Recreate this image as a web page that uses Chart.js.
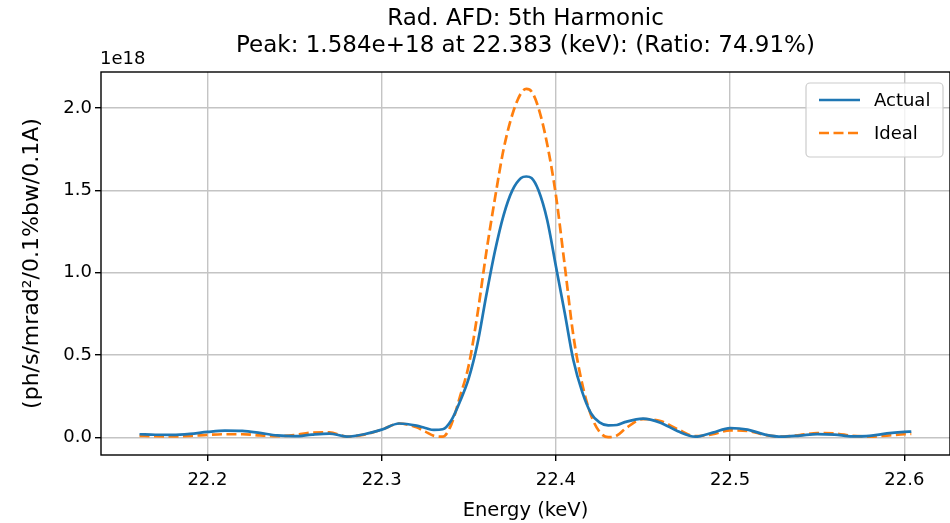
<!DOCTYPE html>
<html>
<head>
<meta charset="utf-8">
<script src="https://cdn.jsdelivr.net/npm/chart.js@4"></script>
<style>
  html, body { margin: 0; padding: 0; background: #fff; }
  #wrap { width: 950px; height: 523px; position: relative; }
</style>
</head>
<body>
<div id="wrap"><canvas id="chart"></canvas></div>
<script>
// energies (keV) and flux values in units of 1e18 ph/s/mrad^2/0.1%bw/0.1A
const energies = [22.161, 22.17, 22.18, 22.19, 22.20, 22.21, 22.22, 22.23, 22.24, 22.25,
  22.26, 22.27, 22.28, 22.29, 22.30, 22.31, 22.32, 22.325, 22.33, 22.335,
  22.34, 22.345, 22.35, 22.355, 22.36, 22.365, 22.37, 22.375, 22.38, 22.383,
  22.386, 22.39, 22.395, 22.40, 22.405, 22.41, 22.415, 22.42, 22.425, 22.43,
  22.435, 22.44, 22.45, 22.46, 22.47, 22.48, 22.49, 22.50, 22.51, 22.52,
  22.53, 22.54, 22.55, 22.56, 22.57, 22.58, 22.59, 22.60, 22.604];

const actualFlux = [0.020, 0.017, 0.016, 0.022, 0.034, 0.042, 0.040, 0.028, 0.013, 0.008,
  0.018, 0.024, 0.006, 0.020, 0.048, 0.085, 0.072, 0.058, 0.046, 0.050,
  0.105, 0.22, 0.36, 0.57, 0.86, 1.13, 1.35, 1.50, 1.575, 1.584,
  1.575, 1.50, 1.32, 1.04, 0.76, 0.47, 0.28, 0.15, 0.092, 0.074,
  0.076, 0.095, 0.115, 0.090, 0.038, 0.005, 0.030, 0.057, 0.048, 0.018,
  0.005, 0.012, 0.021, 0.018, 0.007, 0.010, 0.025, 0.034, 0.036];

const idealFlux = [0.010, 0.008, 0.007, 0.010, 0.016, 0.020, 0.020, 0.013, 0.008, 0.015,
  0.030, 0.032, 0.006, 0.018, 0.048, 0.085, 0.062, 0.036, 0.010, 0.005,
  0.080, 0.25, 0.44, 0.75, 1.12, 1.45, 1.75, 1.96, 2.09, 2.115,
  2.10, 2.00, 1.78, 1.47, 1.05, 0.62, 0.33, 0.14, 0.035, 0.002,
  0.012, 0.055, 0.112, 0.100, 0.050, 0.008, 0.020, 0.043, 0.040, 0.016,
  0.005, 0.015, 0.027, 0.025, 0.010, 0.006, 0.012, 0.020, 0.022];

const xTicks = [22.2, 22.3, 22.4, 22.5, 22.6];
const yTicks = [0.0, 0.5, 1.0, 1.5, 2.0];

const titleLines = ['Rad. AFD: 5th Harmonic', 'Peak: 1.584e+18 at 22.383 (keV): (Ratio: 74.91%)'];
const seriesNames = ['Actual', 'Ideal'];

const FONT = 'DejaVu Sans';
const BLUE = '#1f77b4';
const ORANGE = '#ff7f0e';

// frame, offset text and legend drawn like matplotlib
const extras = {
  id: 'extras',
  afterDraw(chart) {
    const { ctx, chartArea: a } = chart;
    ctx.save();
    ctx.strokeStyle = '#000';
    ctx.lineWidth = 1.4;
    ctx.strokeRect(a.left, a.top, a.right - a.left, a.bottom - a.top);

    ctx.fillStyle = '#000';
    ctx.font = '18px "' + FONT + '"';
    ctx.textAlign = 'left';
    ctx.textBaseline = 'bottom';
    ctx.fillText('1e18', a.left - 1, a.top - 4);

    // legend
    const lx = 806, ly = 83, lw = 137, lh = 74;
    ctx.beginPath();
    ctx.roundRect(lx, ly, lw, lh, 4);
    ctx.fillStyle = 'rgba(255,255,255,0.8)';
    ctx.fill();
    ctx.strokeStyle = '#cccccc';
    ctx.lineWidth = 1.2;
    ctx.stroke();

    const rows = [[seriesNames[0], BLUE, []], [seriesNames[1], ORANGE, [10, 4.5]]];
    rows.forEach((r, i) => {
      const y = 100 + i * 33;
      ctx.beginPath();
      ctx.setLineDash(r[2]);
      ctx.strokeStyle = r[1];
      ctx.lineWidth = 2.7;
      ctx.moveTo(819, y);
      ctx.lineTo(860, y);
      ctx.stroke();
      ctx.setLineDash([]);
      ctx.fillStyle = '#000';
      ctx.textBaseline = 'middle';
      ctx.fillText(r[0], 874, y + 1);
    });
    ctx.restore();
  }
};

new Chart(document.getElementById('chart'), {
  type: 'line',
  data: {
    datasets: [
      {
        label: seriesNames[0],
        data: energies.map((e, i) => ({ x: e, y: actualFlux[i] })),
        borderColor: BLUE,
        borderWidth: 2.7,
        pointRadius: 0,
        cubicInterpolationMode: 'monotone',
        fill: false
      },
      {
        label: seriesNames[1],
        data: energies.map((e, i) => ({ x: e, y: idealFlux[i] })),
        borderColor: ORANGE,
        borderWidth: 2.7,
        borderDash: [10, 4.5],
        pointRadius: 0,
        cubicInterpolationMode: 'monotone',
        fill: false
      }
    ]
  },
  options: {
    responsive: true,
    maintainAspectRatio: false,
    animation: false,
    layout: { padding: { left: 0, right: 0, top: 0, bottom: 0 } },
    plugins: {
      legend: { display: false },
      tooltip: { enabled: false },
      title: {
        display: true,
        fullSize: false,
        text: titleLines,
        color: '#000',
        font: { family: FONT, size: 23, weight: 'normal', lineHeight: 1.2 },
        padding: { top: 5, bottom: 11.8 }
      }
    },
    scales: {
      x: {
        type: 'linear',
        min: 22.1389,
        max: 22.6262,
        afterBuildTicks: (s) => { s.ticks = xTicks.map(v => ({ value: v })); },
        afterFit: (s) => { s.height = 68; },
        grid: { color: '#c4c4c4', lineWidth: 1.4, tickColor: '#000', tickLength: 6 },
        border: { display: false },
        ticks: {
          color: '#000',
          font: { family: FONT, size: 18 },
          padding: 9,
          maxRotation: 0,
          callback: (v) => v.toFixed(1)
        },
        title: {
          display: true,
          text: 'Energy (keV)',
          color: '#000',
          font: { family: FONT, size: 19.5 },
          padding: 0
        }
      },
      y: {
        type: 'linear',
        min: -0.106,
        max: 2.218,
        afterBuildTicks: (s) => { s.ticks = yTicks.map(v => ({ value: v })); },
        afterFit: (s) => { s.width = 101; },
        grid: { color: '#c4c4c4', lineWidth: 1.4, tickColor: '#000', tickLength: 6 },
        border: { display: false },
        ticks: {
          color: '#000',
          font: { family: FONT, size: 18 },
          padding: 3,
          callback: (v) => v.toFixed(1)
        },
        title: {
          display: true,
          text: '(ph/s/mrad\u00b2/0.1%bw/0.1A)',
          color: '#000',
          font: { family: FONT, size: 22 },
          padding: 19
        }
      }
    }
  },
  plugins: [extras]
});
</script>
</body>
</html>
